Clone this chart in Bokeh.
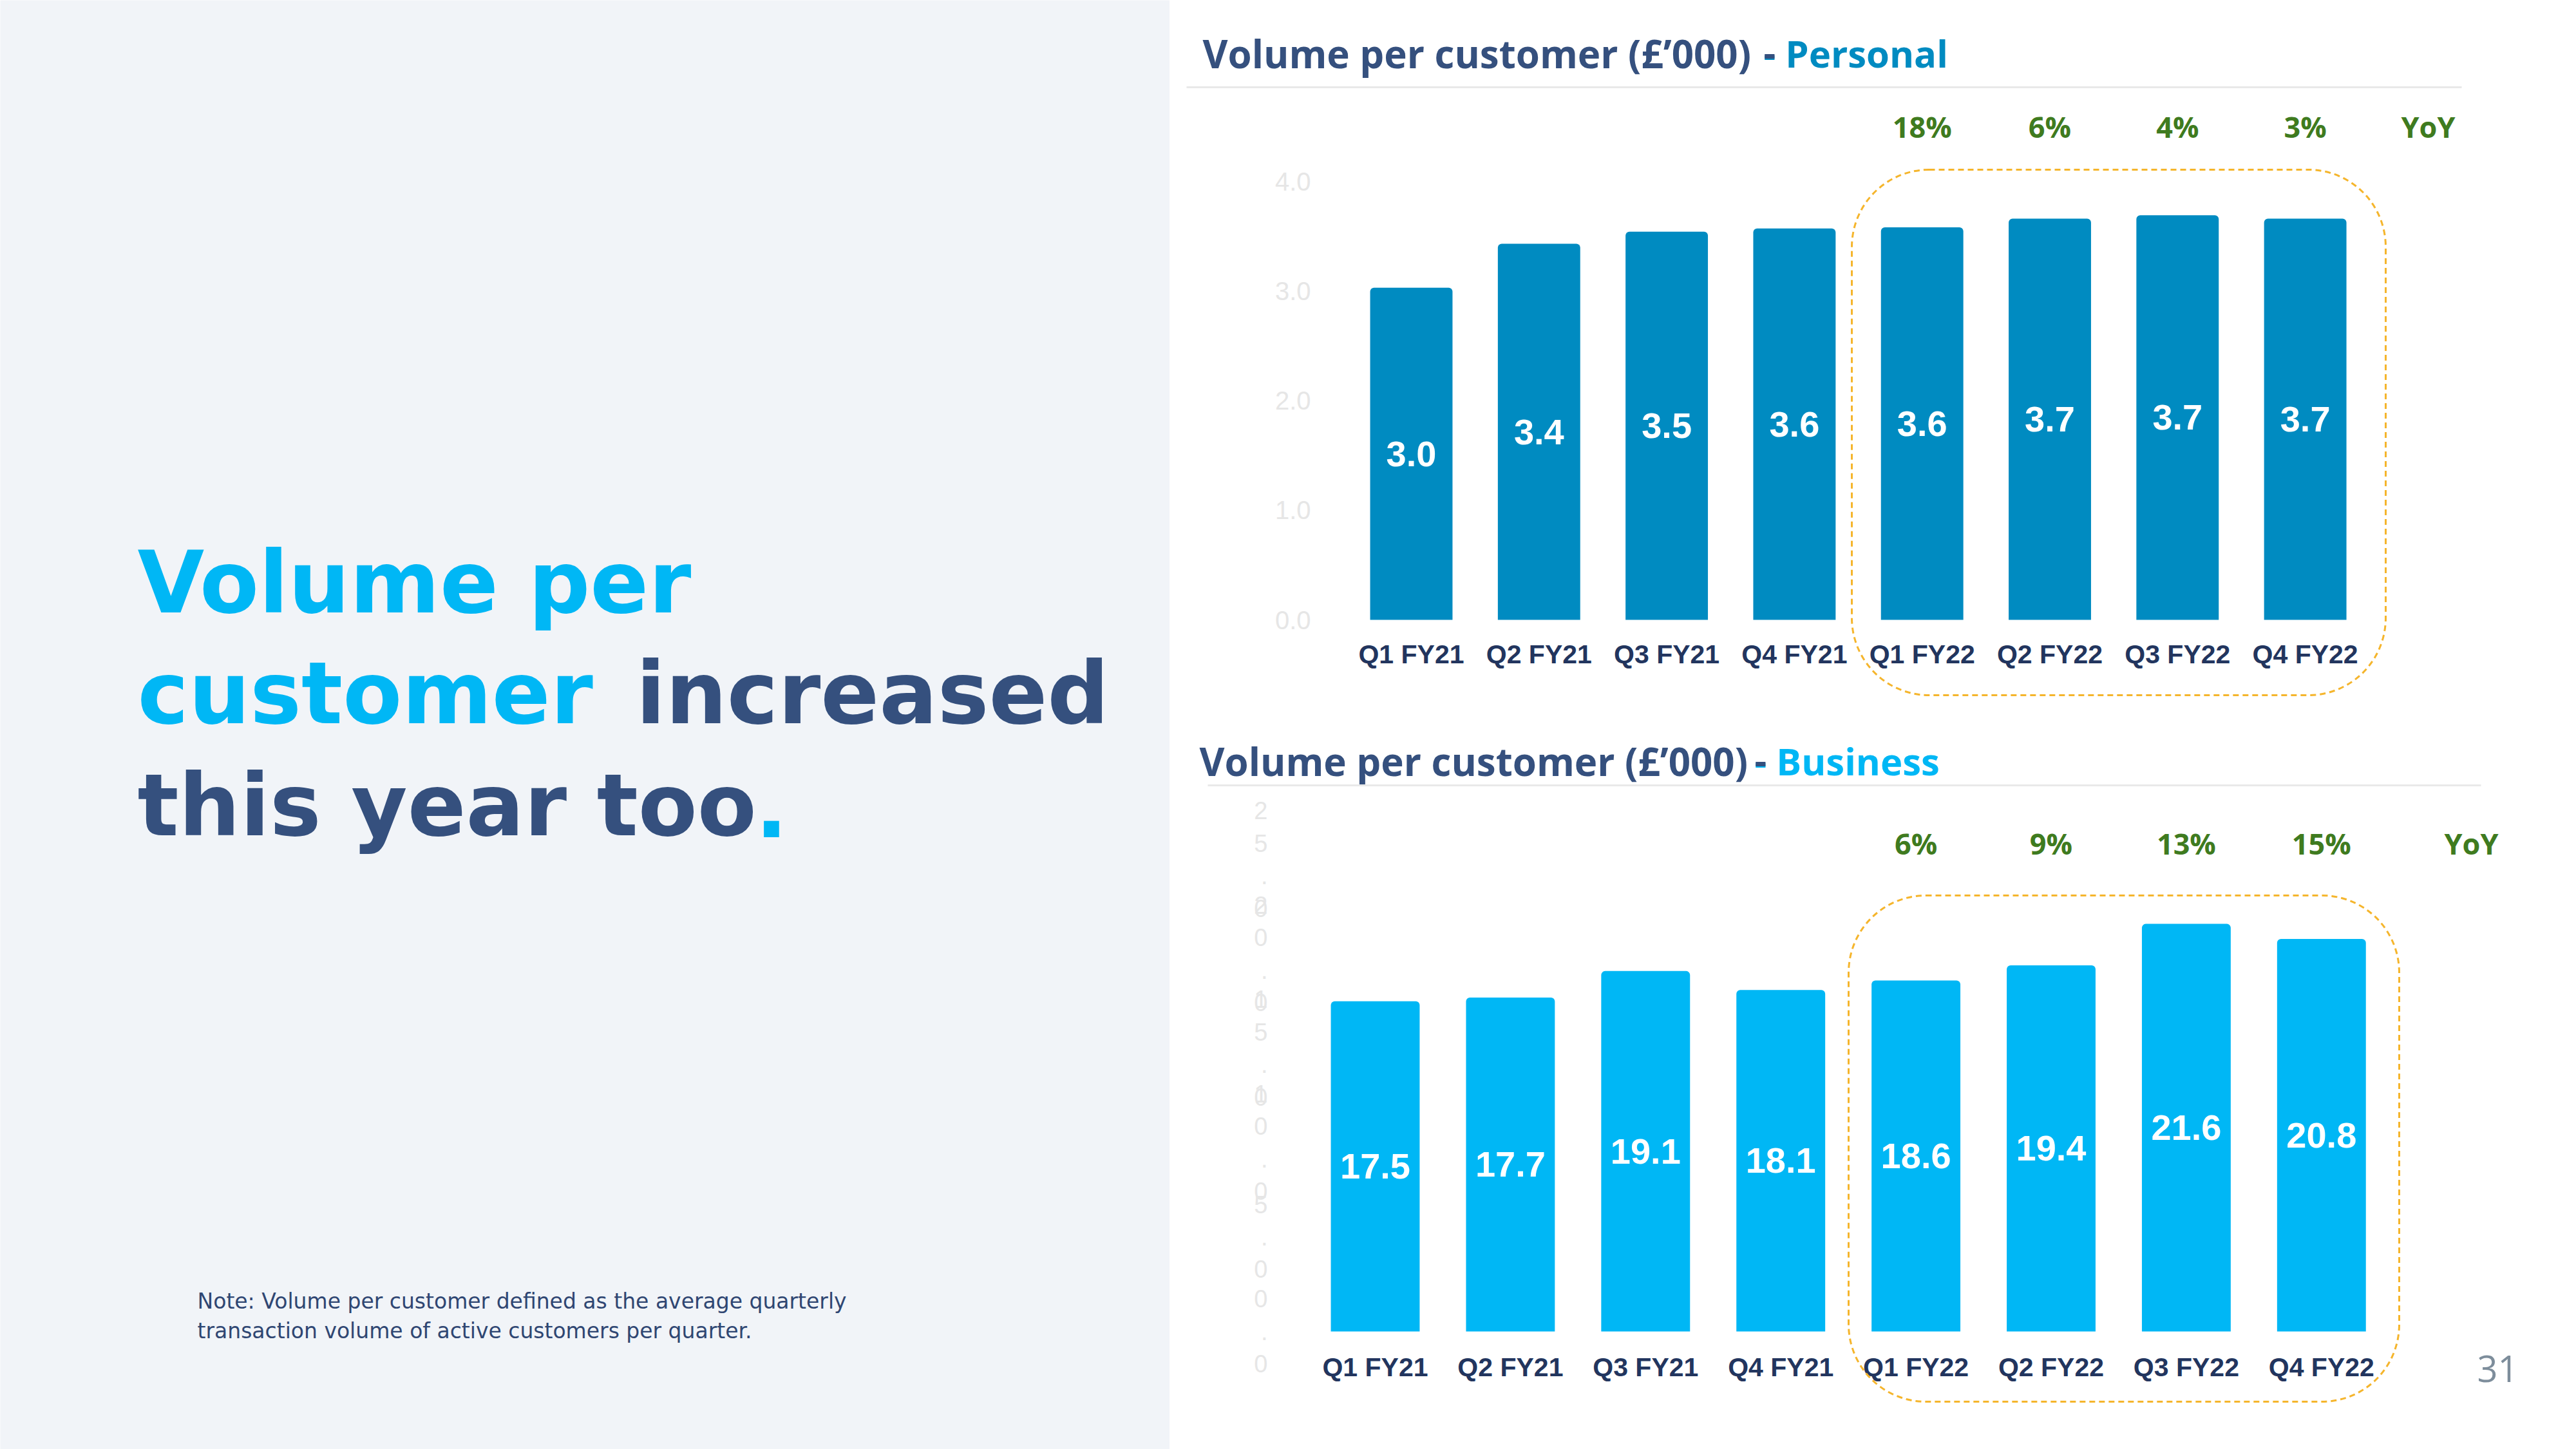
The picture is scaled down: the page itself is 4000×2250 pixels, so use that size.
from bokeh.plotting import figure
from bokeh.models import Range1d, LinearAxis, FixedTicker, BoxAnnotation, ColumnDataSource
from bokeh.layouts import row, column
from bokeh.core.properties import value
from bokeh.embed import file_html
from bokeh.resources import INLINE

# ---------------- data ----------------
quarters = ["Q1 FY21", "Q2 FY21", "Q3 FY21", "Q4 FY21",
            "Q1 FY22", "Q2 FY22", "Q3 FY22", "Q4 FY22"]
personal_values = [3.03, 3.43, 3.54, 3.57, 3.58, 3.66, 3.69, 3.66]
business_values = [17.5, 17.7, 19.1, 18.1, 18.6, 19.4, 21.6, 20.8]
yoy_quarters = ["Q1 FY22", "Q2 FY22", "Q3 FY22", "Q4 FY22"]
personal_yoy = [18, 6, 4, 3]
business_yoy = [6, 9, 13, 15]
personal_ticks = [0, 1, 2, 3, 4]
business_ticks = [0, 5, 10, 15, 20, 25]

title_main = "Volume per customer (£’000)"
personal_sub = "- Personal"
business_sub = "- Business"
headline = [("Volume per", "cyan"), ("customer", "cyan"), ("increased", "navy"),
            ("this year too", "navy"), (".", "cyan")]
note_lines = ["Note: Volume per customer defined as the average quarterly",
              "transaction volume of active customers per quarter."]
page_number = "31"

# ---------------- style ----------------
CYAN = "#00b7f5"
PERSONAL_BLUE = "#008bc1"
NAVY = "#35507e"
AXIS_NAVY = "#22355e"
GREEN = "#3f7b1f"
ORANGE = "#f5b52c"
PANEL_BG = "#f1f4f8"
GHOST = "#e6e6e6"
COLORS = {"cyan": CYAN, "navy": NAVY}


def make_chart(values, ticks, tick_labels, yoy, bar_color, sub_text, sub_color, L):
    W, H, X0, DX, Y0, DY = L["W"], L["H"], L["X0"], L["DX"], L["Y0"], L["DY"]

    def dx(px):
        return (px - X0) / DX

    def dy(py):
        return (Y0 - py) / DY

    p = figure(width=W, height=H,
               x_range=Range1d(dx(0), dx(W)), y_range=Range1d(dy(H), dy(0)),
               x_axis_type=None, y_axis_type=None,
               output_backend="svg", toolbar_location=None, min_border=0,
               outline_line_color=None, background_fill_color="white",
               border_fill_color="white")

    idx = list(range(len(quarters)))
    src = ColumnDataSource(dict(
        x=idx, top=values, mid=[v / 2 for v in values],
        lab=[f"{v:.1f}" for v in values]))
    p.vbar(x="x", top="top", bottom=0, width=L["bar_w"], source=src,
           fill_color=bar_color, line_color=None, border_radius=(6, 6, 0, 0))
    p.text(x="x", y="mid", text="lab", source=src, text_color="white",
           text_font=value("Liberation Sans"), text_font_style="bold",
           text_font_size="56px", text_align="center", text_baseline="middle")

    xa = LinearAxis(ticker=FixedTicker(ticks=idx, minor_ticks=[]),
                    major_label_overrides={i: q for i, q in zip(idx, quarters)},
                    fixed_location=0, axis_line_color=None,
                    major_tick_line_color=None, minor_tick_line_color=None,
                    major_label_standoff=L["xstand"],
                    major_label_text_font="Liberation Sans",
                    major_label_text_font_style="bold",
                    major_label_text_font_size="41px",
                    major_label_text_color=AXIS_NAVY)
    p.add_layout(xa, "below")

    ya = LinearAxis(ticker=FixedTicker(ticks=ticks, minor_ticks=[]),
                    major_label_overrides={t: s for t, s in zip(ticks, tick_labels)},
                    fixed_location=dx(L["yaxis_px"]), axis_line_color=None,
                    major_tick_line_color=None, minor_tick_line_color=None,
                    major_label_standoff=0,
                    major_label_text_font="Liberation Sans",
                    major_label_text_font_size=L["tick_size"],
                    major_label_text_color=GHOST)
    p.add_layout(ya, "left")

    # YoY growth row above the FY22 bars
    yoy_x = [quarters.index(q) for q in yoy_quarters]
    p.text(x=yoy_x, y=[dy(L["yoy_y"])] * len(yoy), text=[f"{v}%" for v in yoy],
           text_color=GREEN, text_font=value("Open Sans"), text_font_style="bold",
           text_font_size="45px", text_align="center", text_baseline="middle")
    p.text(x=[dx(L["yoy_hdr_x"])], y=[dy(L["yoy_y"])], text=["YoY"],
           text_color=GREEN, text_font=value("Open Sans"), text_font_style="bold",
           text_font_size="45px", text_align="center", text_baseline="middle")

    # title and rule
    tx, ty = L["title_xy"]
    p.text(x=[dx(tx)], y=[dy(ty)], text=[title_main], text_color=NAVY,
           text_font=value("Open Sans"), text_font_style="bold",
           text_font_size="60px", text_align="left", text_baseline="middle")
    p.text(x=[dx(L["sub_x"])], y=[dy(ty)], text=[sub_text], text_color=sub_color,
           text_font=value("Open Sans"), text_font_style="bold",
           text_font_size="58px", text_align="left", text_baseline="middle")
    p.text(x=[dx(L["sub_x"])], y=[dy(ty)], text=["-"], text_color=NAVY,
           text_font=value("Open Sans"), text_font_style="bold",
           text_font_size="58px", text_align="left", text_baseline="middle")
    r0, r1, ry = L["rule"]
    p.segment(x0=[dx(r0)], y0=[dy(ry)], x1=[dx(r1)], y1=[dy(ry)],
              line_color="#e9e9e9", line_width=3)

    # dashed highlight around FY22
    bl, br, bt, bb = L["box"]
    p.add_layout(BoxAnnotation(left=dx(bl), right=dx(br), top=dy(bt), bottom=dy(bb),
                               fill_color=None, fill_alpha=0, line_color=ORANGE,
                               line_alpha=1.0, line_width=3, line_dash="9 6",
                               border_radius=120))
    return p, dx, dy


TOP = dict(W=2184, H=1125, X0=375, DX=198.3, Y0=962, DY=170.25, bar_w=0.645,
           xstand=24, yaxis_px=225, tick_size="40px", title_xy=(51, 82),
           sub_x=922, rule=(26, 2006, 135), yoy_y=196, yoy_hdr_x=1954,
           box=(1059, 1888, 263, 1079))
BOT = dict(W=2184, H=1125, X0=319, DX=209.9, Y0=942, DY=29.3, bar_w=0.657,
           xstand=26, yaxis_px=158, tick_size="38px", title_xy=(46, 56),
           sub_x=908, rule=(59, 2036, 94), yoy_y=184, yoy_hdr_x=2021,
           box=(1054, 1909, 265, 1051))

p_top, _, _ = make_chart(personal_values, personal_ticks,
                         [f"{t:.1f}" for t in personal_ticks], personal_yoy,
                         PERSONAL_BLUE, personal_sub, PERSONAL_BLUE, TOP)
p_bot, bdx, bdy = make_chart(business_values, business_ticks,
                             ["\n".join(f"{t:.1f}") for t in business_ticks],
                             business_yoy, CYAN, business_sub, CYAN, BOT)
p_bot.text(x=[bdx(2062)], y=[bdy(1000)], text=[page_number], text_color="#7d8d9b",
           text_font=value("Open Sans"), text_font_size="56px",
           text_align="center", text_baseline="middle")

# ---------------- left panel ----------------
LW, LH = 1816, 2250
left = figure(width=LW, height=LH, x_range=Range1d(0, LW), y_range=Range1d(LH, 0),
              x_axis_type=None, y_axis_type=None, output_backend="svg",
              toolbar_location=None, min_border=0, outline_line_color=None,
              background_fill_color=PANEL_BG, border_fill_color=PANEL_BG)
head_pos = [(213, 904), (213, 1076), (987, 1076), (213, 1250), (1172, 1250)]
hsrc = ColumnDataSource(dict(
    x=[p[0] for p in head_pos], y=[p[1] for p in head_pos],
    text=[h[0] for h in headline], color=[COLORS[h[1]] for h in headline]))
left.text(x="x", y="y", text="text", text_color="color", source=hsrc,
          text_font=value("DejaVu Sans"), text_font_style="bold",
          text_font_size="134px", text_align="left", text_baseline="alphabetic")
left.text(x=[306, 306], y=[2020, 2066], text=note_lines, text_color="#2f4672",
          text_font=value("DejaVu Sans"), text_font_size="33px",
          text_align="left", text_baseline="middle")

layout = row(left, column(p_top, p_bot))
open("out.html", "w").write(file_html(layout, INLINE))
